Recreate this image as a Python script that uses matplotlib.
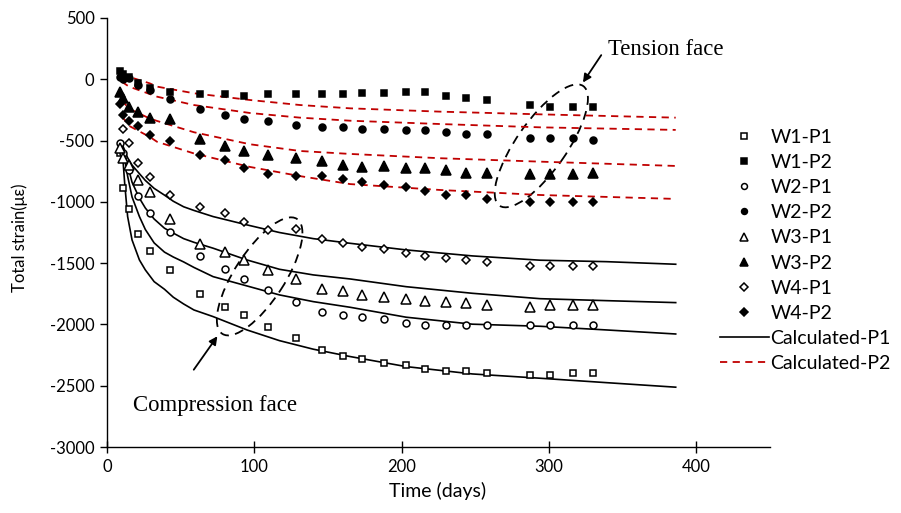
import matplotlib
matplotlib.use("Agg")
import matplotlib.pyplot as plt
import numpy as np
from matplotlib.patches import Ellipse
from matplotlib.transforms import ScaledTranslation

nan = np.nan

# measurement days (shared by all gauges)
days = [9, 11, 15, 21, 29, 43, 63, 80, 93, 109, 128, 146, 160, 173, 188,
        203, 216, 230, 244, 258, 287, 301, 316, 330]

w1_p1 = [-604, -889, -1056, -1264, -1403, -1560, -1754, -1860, -1923, -2018, -2113, -2208,
         -2254, -2284, -2317, -2333, -2363, -2380, -2380, -2398, -2412, -2412, -2398, -2398]
w1_p2 = [70, 40, 21, -33, -75, -101, -120, -120, -134, -120, -120, -120,
         -120, -114, -114, -101, -101, -134, -150, -169, -210, -229, -229, -229]
w2_p1 = [-520, -600, -742, -949, -1090, -1247, -1439, -1547, -1626, -1719, -1816, -1895,
         -1923, -1942, -1955, -1985, -2004, -2004, -2004, -2004, -2004, -2004, -2004, -2004]
w2_p2 = [20, 0, 13, -50, -90, -160, -245, -294, -324, -340, -370, -386,
         -386, -403, -403, -416, -416, -432, -449, -449, -481, -481, -481, -495]
w3_p1 = [-560, -644, -703, -824, -917, -1138, -1346, -1406, -1474, -1555, -1631, -1713,
         -1724, -1759, -1778, -1792, -1806, -1819, -1822, -1841, -1855, -1841, -1841, -1841]
w3_p2 = [-101, -155, -223, -270, -314, -328, -489, -541, -582, -617, -644, -666,
         -696, -713, -707, -726, -726, -740, -762, -762, -775, -775, -775, -762]
w4_p1 = [nan, -405, -517, -685, -799, -944, -1039, -1093, -1161, -1229, -1223, -1305,
         -1338, -1365, -1384, -1414, -1441, -1460, -1474, -1493, -1523, -1523, -1523, -1523]
w4_p2 = [-201, -291, -340, -380, -452, -502, -617, -658, -721, -772, -789, -789,
         -813, -835, -862, -876, -909, -944, -944, -979, -1003, -1003, -1003, -1003]

# calculated curves, compression face (P1)
p1_days = [10, 12, 14, 17, 22, 26, 32, 39, 45, 52, 59, 72, 95, 117, 140, 165, 203, 248, 294, 339, 386]
calc_w1_p1 = [-520, -848, -1120, -1311, -1474, -1555, -1651, -1713, -1778, -1833, -1882,
              -1936, -2045, -2132, -2202, -2262, -2344, -2404, -2439, -2475, -2512]
calc_w2_p1 = [-520, -650, -790, -960, -1120, -1225, -1335, -1410, -1450, -1490, -1535,
              -1610, -1686, -1759, -1814, -1860, -1941, -1998, -2015, -2045, -2078]
calc_w3_p1 = [-520, -600, -700, -840, -970, -1050, -1140, -1215, -1255, -1300, -1330,
              -1378, -1474, -1550, -1596, -1629, -1692, -1746, -1790, -1806, -1822]
calc_w4_p1 = [-520, -580, -640, -700, -770, -825, -890, -945, -995, -1040, -1070,
              -1120, -1188, -1250, -1300, -1338, -1392, -1441, -1476, -1488, -1509]

# calculated curves, tension face (P2)
p2_days = [10, 15, 29, 34, 59, 97, 131, 165, 226, 294, 386]
calc_w1_p2 = [40, 20, -33, -60, -114, -169, -210, -237, -264, -286, -313]
calc_w2_p2 = [-20, -60, -120, -142, -210, -275, -313, -338, -365, -392, -413]
calc_w3_p2 = [-170, -240, -320, -340, -432, -530, -585, -609, -644, -672, -707]
calc_w4_p2 = [-300, -380, -470, -510, -605, -715, -790, -855, -903, -944, -976]

plt.rcParams['font.family'] = ['Lato', 'DejaVu Sans']
plt.rcParams['axes.unicode_minus'] = False
serif = ['Liberation Serif', 'DejaVu Serif']

fig = plt.figure(figsize=(9.01, 5.13), dpi=100)
ax = fig.add_axes([107 / 901, 1 - 447 / 513, 663 / 901, 429 / 513])

red = '#C00000'
for vals in [calc_w1_p1, calc_w2_p1, calc_w3_p1, calc_w4_p1]:
    line_p1, = ax.plot(p1_days, vals, color='black', lw=1.2)
for vals in [calc_w1_p2, calc_w2_p2, calc_w3_p2, calc_w4_p2]:
    line_p2, = ax.plot(p2_days, vals, color=red, lw=1.3, ls=(0, (4, 3)))

series = [
    ('W1-P1', w1_p1, 's', 5, 'white'),
    ('W1-P2', w1_p2, 's', 5, 'black'),
    ('W2-P1', w2_p1, 'o', 5, 'white'),
    ('W2-P2', w2_p2, 'o', 5, 'black'),
    ('W3-P1', w3_p1, '^', 6.5, 'white'),
    ('W3-P2', w3_p2, '^', 6.5, 'black'),
    ('W4-P1', w4_p1, 'D', 4.3, 'white'),
    ('W4-P2', w4_p2, 'D', 4.3, 'black'),
]
handles = []
for name, vals, mk, ms, fc in series:
    h, = ax.plot(days, vals, ls='none', marker=mk, ms=ms, mfc=fc, mec='black', mew=1.1, label=name)
    handles.append(h)
line_p1.set_label('Calculated-P1')
line_p2.set_label('Calculated-P2')
handles += [line_p1, line_p2]

ax.set_xlim(0, 450)
ax.set_ylim(-3000, 500)
ax.set_xticks([0, 100, 200, 300, 400])
ax.set_yticks(np.arange(-3000, 501, 500))
ax.spines['top'].set_visible(False)
ax.spines['right'].set_visible(False)
for s in ['left', 'bottom']:
    ax.spines[s].set_linewidth(1.0)
ax.tick_params(axis='x', direction='inout', length=8, width=1, labelsize=12, pad=5)
ax.tick_params(axis='y', direction='out', length=5, width=1, labelsize=12, pad=4)

fig.text(20 / 901, 1 - 238 / 513, 'Total strain(με)', rotation=90, ha='center', va='center', fontsize=12)
fig.text(438 / 901, 1 - 491 / 513, 'Time (days)', ha='center', va='center', fontsize=14)

fig.legend(handles=handles, loc='center left', bbox_to_anchor=(720 / 901, 1 - 250.5 / 513),
           frameon=False, fontsize=14, handlelength=2.5, handletextpad=0.1,
           labelspacing=0.42, borderpad=0, borderaxespad=0, markerscale=0.85)


def face_ellipse(x, y, w_px, h_px, angle):
    tr = fig.dpi_scale_trans + ScaledTranslation(x, y, ax.transData)
    e = Ellipse((0, 0), w_px / 100, h_px / 100, angle=angle, transform=tr,
                fill=False, ec='black', lw=1.3, ls=(0, (5, 3.5)))
    ax.add_patch(e)


face_ellipse(103.6, -1608, 137, 50, 57)
face_ellipse(294.8, -543, 146, 50, 55)

arrow = dict(arrowstyle='-|>', color='black', lw=1.3, mutation_scale=12)
ax.annotate('', xy=(76, -2078), xytext=(57.8, -2388), arrowprops=arrow)
ax.annotate('', xy=(322, -45), xytext=(336.5, 216), arrowprops=arrow)
ax.text(17.9, -2665, 'Compression face', fontsize=16.4, family=serif, va='center', ha='left')
ax.text(340, 240, 'Tension face', fontsize=16.4, family=serif, va='center', ha='left')

fig.savefig('out.png', dpi=100)
